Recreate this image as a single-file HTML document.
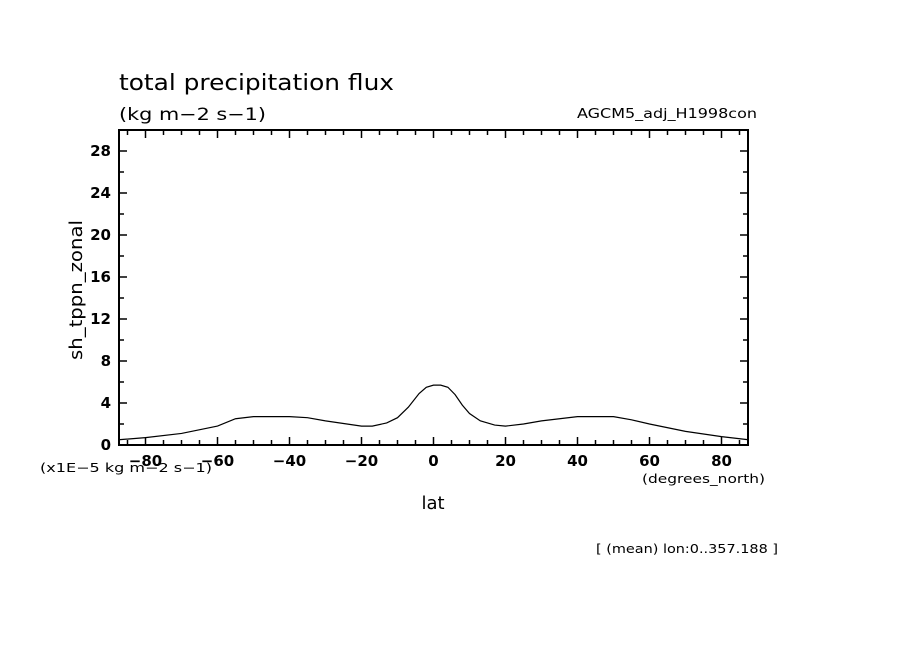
<!DOCTYPE html>
<html><head><meta charset="utf-8"><style>
body{margin:0;background:#fff}
svg text{font-family:"DejaVu Sans","Liberation Sans",sans-serif;fill:#000}
</style></head><body>
<svg width="904" height="654" xmlns="http://www.w3.org/2000/svg">
<rect width="904" height="654" fill="#fff"/>
<text x="119" y="90" font-size="22" textLength="275" lengthAdjust="spacingAndGlyphs">total precipitation flux</text>
<text x="119" y="120" font-size="17" textLength="147" lengthAdjust="spacingAndGlyphs">(kg m−2 s−1)</text>
<text x="577" y="118" font-size="13" textLength="180" lengthAdjust="spacingAndGlyphs">AGCM5_adj_H1998con</text>
<g id="axes"></g>
<text x="40" y="472" font-size="12" textLength="172" lengthAdjust="spacingAndGlyphs">(x1E−5 kg m−2 s−1)</text>
<text x="642" y="483" font-size="12" textLength="123" lengthAdjust="spacingAndGlyphs">(degrees_north)</text>
<text x="433" y="509" font-size="18" text-anchor="middle">lat</text>
<text x="82" y="290" font-size="18" text-anchor="middle" textLength="140" lengthAdjust="spacingAndGlyphs" transform="rotate(-90 82 290)">sh_tppn_zonal</text>
<text x="596" y="553" font-size="12" textLength="182" lengthAdjust="spacingAndGlyphs">[ (mean) lon:0..357.188 ]</text>
</svg>
<script>
const lats=[-87.5,-80,-70,-60,-55,-50,-40,-35,-30,-20,-17,-13,-10,-7,-4,-2,0,2,4,6,8,10,13,17,20,25,30,40,50,55,60,70,80,87.5];
const vals=[0.5,0.7,1.1,1.8,2.5,2.7,2.7,2.6,2.3,1.8,1.8,2.1,2.6,3.6,4.9,5.5,5.7,5.7,5.5,4.8,3.8,3.0,2.3,1.9,1.8,2.0,2.3,2.7,2.7,2.4,2.0,1.3,0.8,0.5];
const xTicks=[-80,-60,-40,-20,0,20,40,60,80];
const yTicks=[0,4,8,12,16,20,24,28];
const L=119,R=748,T=130,B=445;
const xs=v=>433.5+v*3.6, ys=v=>B-v*10.5;
const ns="http://www.w3.org/2000/svg", g=document.getElementById('axes');
function mk(t,a){const e=document.createElementNS(ns,t);for(const k in a)e.setAttribute(k,a[k]);g.appendChild(e);return e;}
const fr=mk('rect',{x:L,y:T,width:R-L,height:B-T,fill:'none',stroke:'#000','stroke-width':2});


for(let v=-85;v<=85;v+=5){const x=xs(v),len=v%20===0?8:5;
 mk('line',{x1:x,y1:B,x2:x,y2:B-len,stroke:'#000','stroke-width':1.5});
 mk('line',{x1:x,y1:T,x2:x,y2:T+len,stroke:'#000','stroke-width':1.5});}
for(let v=0;v<=30;v+=2){const y=ys(v),len=v%4===0?8:5;
 mk('line',{x1:L,y1:y,x2:L+len,y2:y,stroke:'#000','stroke-width':1.5});
 mk('line',{x1:R,y1:y,x2:R-len,y2:y,stroke:'#000','stroke-width':1.5});}
xTicks.forEach(v=>{const t=mk('text',{x:xs(v),y:466,'font-size':15,'font-weight':'bold','text-anchor':'middle'});t.textContent=v<0?'−'+(-v):v;
 
 });
yTicks.forEach(v=>{const t=mk('text',{x:111,y:ys(v)+5,'font-size':15,'font-weight':'bold','text-anchor':'end'});t.textContent=v;
 
 });
const p=mk('polyline',{points:lats.map((l,i)=>xs(l)+','+ys(vals[i])).join(' '),fill:'none',stroke:'#000','stroke-width':1.2});


</script>
</body></html>
